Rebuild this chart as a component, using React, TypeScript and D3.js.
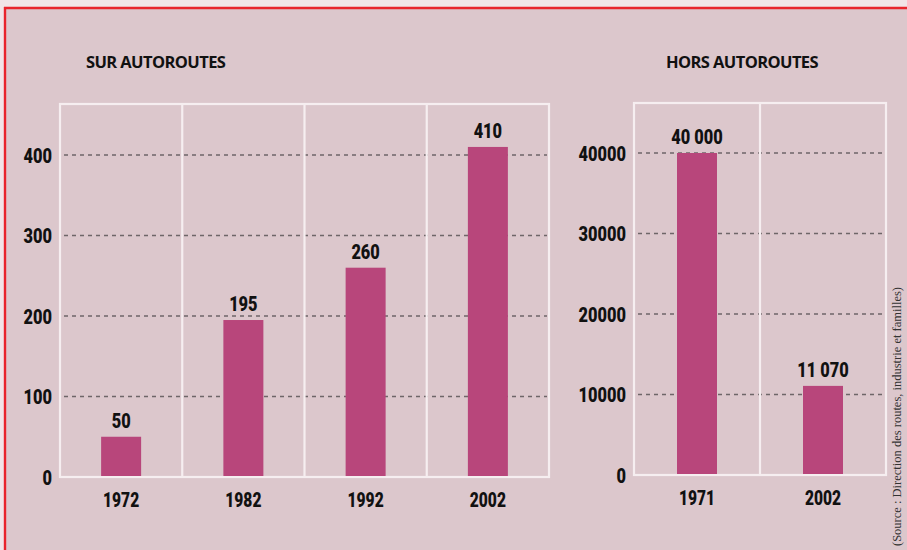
import React from 'react';
import * as d3 from 'd3';

// SUR AUTOROUTES
const surYears = ['1972', '1982', '1992', '2002'];
const surValues = [50, 195, 260, 410];
const surLabels = ['50', '195', '260', '410'];
const surTicks = [0, 100, 200, 300, 400];

// HORS AUTOROUTES
const horsYears = ['1971', '2002'];
const horsValues = [40000, 11070];
const horsLabels = ['40 000', '11 070'];
const horsTicks = [0, 10000, 20000, 30000, 40000];

const BG = '#dcc7cc';
const BAR = '#b8467b';
const FRAME = '#f6eef0';
const NUM_FONT = 'Roboto, "Liberation Sans", sans-serif';

// condensed bold number, squeezed horizontally
function Num({ x, y, anchor, size, children }: { x: number; y: number; anchor: string; size: number; children: React.ReactNode }) {
  return (
    <g transform={`translate(${x},${y}) scale(0.78,1)`}>
      <text textAnchor={anchor} fontFamily={NUM_FONT} fontWeight={900} fontSize={size} fill="#111">{children}</text>
    </g>
  );
}

type PanelProps = {
  years: string[];
  values: number[];
  labels: string[];
  ticks: number[];
  x0: number;
  x1: number;
  yMax: number;
  top: number;
  bottom: number;
};

function Panel({ years, values, labels, ticks, x0, x1, yMax, top, bottom }: PanelProps) {
  const x = d3.scaleBand().domain(years).range([x0, x1]);
  const y = d3.scaleLinear().domain([0, yMax]).range([bottom, top]);
  const barW = 40;
  return (
    <g>
      {/* grid */}
      {ticks.filter(t => t > 0).map(t => (
        <line key={'g' + t} x1={x0 + 4} x2={x1 - 2} y1={y(t)} y2={y(t)}
          stroke="#6e6668" strokeWidth={1.6} strokeDasharray="4 4" />
      ))}
      {/* frame */}
      <rect x={x0} y={top} width={x1 - x0} height={bottom - top} fill="none" stroke={FRAME} strokeWidth={2.2} />
      {years.slice(1).map(yr => (
        <line key={'d' + yr} x1={x(yr)!} x2={x(yr)!} y1={top} y2={bottom} stroke={FRAME} strokeWidth={2.2} />
      ))}
      {/* bars */}
      {years.map((yr, i) => {
        const cx = x(yr)! + x.bandwidth() / 2;
        return (
          <g key={yr}>
            <rect x={cx - barW / 2} y={y(values[i])} width={barW} height={bottom - 1 - y(values[i])} fill={BAR} />
            <Num x={cx} y={y(values[i]) - 9} anchor="middle" size={21}>{labels[i]}</Num>
            <Num x={cx} y={bottom + 30} anchor="middle" size={20}>{yr}</Num>
          </g>
        );
      })}
      {/* y axis labels */}
      {ticks.map(t => (
        <Num key={'t' + t} x={x0 - 8} y={y(t) + 7.5} anchor="end" size={21}>{t}</Num>
      ))}
    </g>
  );
}

export default function App() {
  const width = 907, height = 550;
  return (
    <svg width={width} height={height} style={{ position: 'absolute', left: 0, top: 0 }}>
      <rect x={0} y={0} width={width} height={height} fill={BG} />
      <rect x={0} y={0} width={width} height={7} fill="#f1e4e7" />
      <rect x={0} y={0} width={5} height={height} fill="#f1e4e7" />
      <line x1={4} x2={width} y1={8} y2={8} stroke="#e8232b" strokeWidth={2.4} />
      <line x1={5} x2={5} y1={7} y2={height} stroke="#e8232b" strokeWidth={2.4} />

      <text x={86} y={68} fontFamily='"Open Sans", sans-serif' fontWeight={700} fontSize={16.5}
        letterSpacing={-0.6} fill="#111">SUR AUTOROUTES</text>
      <text x={742} y={68} textAnchor="middle" fontFamily='"Open Sans", sans-serif' fontWeight={700}
        fontSize={16.5} letterSpacing={-0.6} fill="#111">HORS AUTOROUTES</text>

      <Panel years={surYears} values={surValues} labels={surLabels} ticks={surTicks}
        x0={60} x1={549} yMax={400 * (477 - 104) / (477 - 155)} top={104} bottom={477} />
      <Panel years={horsYears} values={horsValues} labels={horsLabels} ticks={horsTicks}
        x0={634} x1={886} yMax={40000 * (475 - 103) / (475 - 153)} top={103} bottom={475} />

      <text transform="translate(901,546) rotate(-90)" fontFamily='"Liberation Serif", serif'
        fontSize={12.5} fill="#333">(Source : Direction des routes, industrie et familles)</text>
    </svg>
  );
}
